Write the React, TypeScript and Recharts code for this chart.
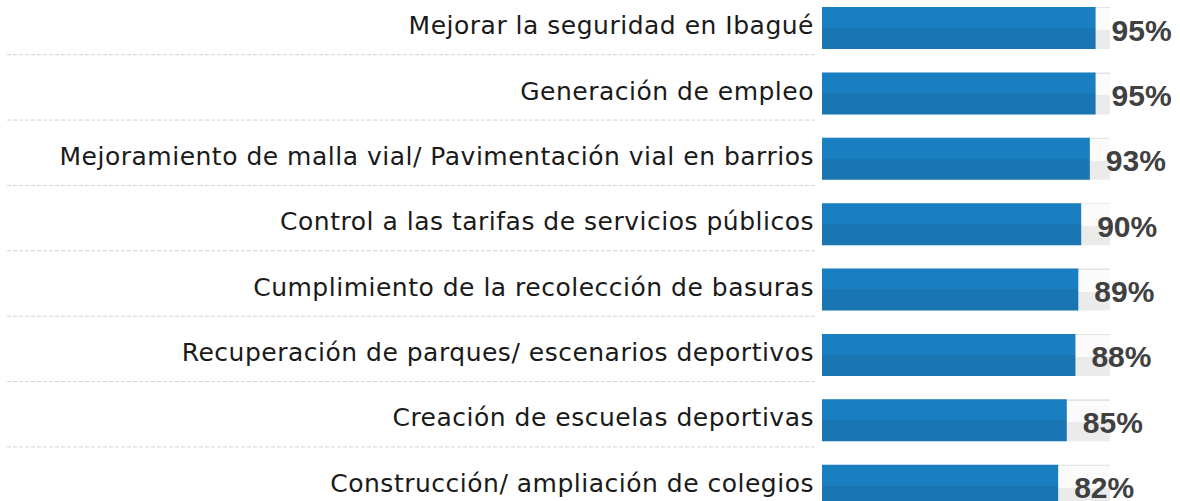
import { BarChart, Bar, XAxis, YAxis, LabelList } from 'recharts'

const categories = [
  'Mejorar la seguridad en Ibagué',
  'Generación de empleo',
  'Mejoramiento de malla vial/ Pavimentación vial en barrios',
  'Control a las tarifas de servicios públicos',
  'Cumplimiento de la recolección de basuras',
  'Recuperación de parques/ escenarios deportivos',
  'Creación de escuelas deportivas',
  'Construcción/ ampliación de colegios',
]

const values = [95, 95, 93, 90, 89, 88, 85, 82]

const data = categories.map((name, i) => ({ name, value: values[i] }))

const CategoryTick = (props: any) => {
  const { x, y, payload } = props
  return (
    <g>
      <text
        x={x}
        y={y}
        dy={6.5}
        textAnchor="end"
        fill="#1a1a1a"
        fontSize={25}
        letterSpacing={0.5}
        fontFamily="DejaVu Sans"
      >
        {payload.value}
      </text>
      <line
        x1={7}
        x2={815}
        y1={y + 27}
        y2={y + 27}
        stroke="#d4d4d4"
        strokeDasharray="4 2"
      />
    </g>
  )
}

const ValueLabel = (props: any) => {
  const { x, y, width, height, value } = props
  return (
    <text
      x={x + width + 16}
      y={y + height / 2 + 2}
      dominantBaseline="central"
      fill="#404040"
      fontSize={30}
      fontWeight="bold"
      fontFamily="Liberation Sans"
    >
      {value}%
    </text>
  )
}

export default function App() {
  return (
    <div style={{ position: 'absolute', left: 0, top: -5 }}>
      <BarChart
        layout="vertical"
        width={1180}
        height={523}
        data={data}
        margin={{ top: 0, right: 70, left: 0, bottom: 0 }}
      >
        <defs>
          <linearGradient id="barFill" x1="0" y1="0" x2="0" y2="1">
            <stop offset="0" stopColor="#1a7fc1" />
            <stop offset="0.5" stopColor="#1a7fc1" />
            <stop offset="0.5" stopColor="#1976b2" />
            <stop offset="1" stopColor="#1976b2" />
          </linearGradient>
          <linearGradient id="trackFill" x1="0" y1="0" x2="0" y2="1">
            <stop offset="0" stopColor="#e4e4e4" />
            <stop offset="0.03" stopColor="#e4e4e4" />
            <stop offset="0.03" stopColor="#fbfbfb" />
            <stop offset="0.55" stopColor="#fbfbfb" />
            <stop offset="0.55" stopColor="#ebebeb" />
            <stop offset="1" stopColor="#ebebeb" />
          </linearGradient>
        </defs>
        <XAxis type="number" domain={[0, 100]} hide />
        <YAxis
          type="category"
          dataKey="name"
          width={822}
          axisLine={false}
          tickLine={false}
          tick={<CategoryTick />}
          interval={0}
        />
        <Bar
          dataKey="value"
          barSize={42}
          fill="url(#barFill)"
          background={{ fill: 'url(#trackFill)' }}
          isAnimationActive={false}
        >
          <LabelList dataKey="value" content={<ValueLabel />} />
        </Bar>
      </BarChart>
    </div>
  )
}
